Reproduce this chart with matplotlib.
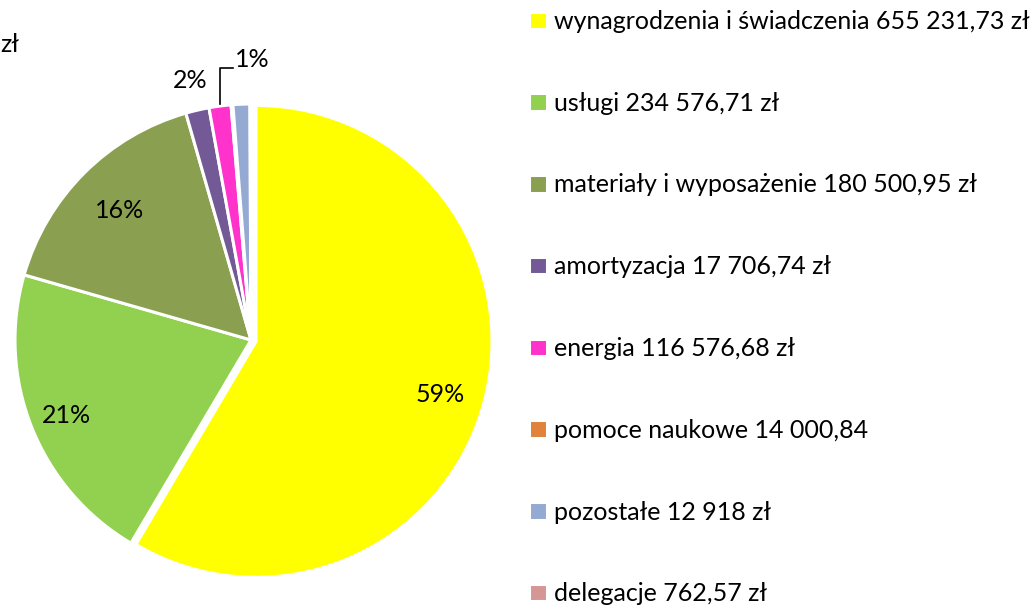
import matplotlib.pyplot as plt
import numpy as np

plt.rcParams['font.family'] = ['Lato', 'DejaVu Sans']

# shares of each slice (%)
categories = ['wynagrodzenia i świadczenia', 'usługi', 'materiały i wyposażenie',
              'amortyzacja', 'energia', 'pomoce naukowe', 'pozostałe', 'delegacje']
amounts = ['655 231,73 zł', '234 576,71 zł', '180 500,95 zł', '17 706,74 zł',
           '116 576,68 zł', '14 000,84', '12 918 zł', '762,57 zł']
shares = [58.5, 20.95, 16.1, 1.6, 1.5, 0.13, 1.15, 0.07]
pct_labels = ['59%', '21%', '16%', '2%', '1%', '', '', '']

colors = ['#FFFF00', '#92D050', '#8AA050', '#735A96', '#FF33CC',
          '#E0823C', '#95AAD2', '#D79696']
explode = [0.022, 0, 0, 0, 0, 0, 0, 0]

W, H = 1033, 608
fig = plt.figure(figsize=(W / 100, H / 100), dpi=100)

# pie centre ~ (251, 340) px, radius ~236 px
cx, cy, R = 251, 340, 236
ax = fig.add_axes([(cx - R) / W, (H - cy - R) / H, 2 * R / W, 2 * R / H])
wedges, _ = ax.pie(shares, colors=colors, startangle=90, counterclock=False,
                   explode=explode, radius=1,
                   wedgeprops=dict(edgecolor='white', linewidth=2.2))
ax.set_xlim(-1, 1)
ax.set_ylim(-1, 1)
ax.set_aspect('equal')
ax.axis('off')
for w in wedges:
    w.set_clip_on(False)

# percentage labels
label_r = [0.83, 0.84, 0.79, 1.14, None]
for i, txt in enumerate(pct_labels):
    if not txt:
        continue
    w = wedges[i]
    ang = np.deg2rad((w.theta1 + w.theta2) / 2)
    if i == 4:
        # leader line for the small slice
        x0, y0 = np.cos(ang), np.sin(ang) + 0.01
        ax.plot([x0, x0, x0 + 0.055], [y0, 1.153, 1.153], color='black', lw=1.2,
                clip_on=False)
        ax.text(x0 + 0.065, 1.19, txt, ha='left', va='center', fontsize=18)
    else:
        ax.text(label_r[i] * np.cos(ang), label_r[i] * np.sin(ang) - 0.01, txt,
                ha='center', va='center', fontsize=18, clip_on=False)

leg_labels = [f'{c} {a}' for c, a in zip(categories, amounts)]
fig.legend(wedges, leg_labels, loc='upper left', bbox_to_anchor=(519 / W, 1.0),
           frameon=False, fontsize=18, handlelength=0.7, handleheight=0.7,
           handletextpad=0.3, labelspacing=2.35, borderaxespad=0)

# cut-off title end at top-left
fig.text(0.0, 1 - 45 / H, 'zł', ha='left', va='center', fontsize=18)

fig.savefig('out.png', dpi=100)
